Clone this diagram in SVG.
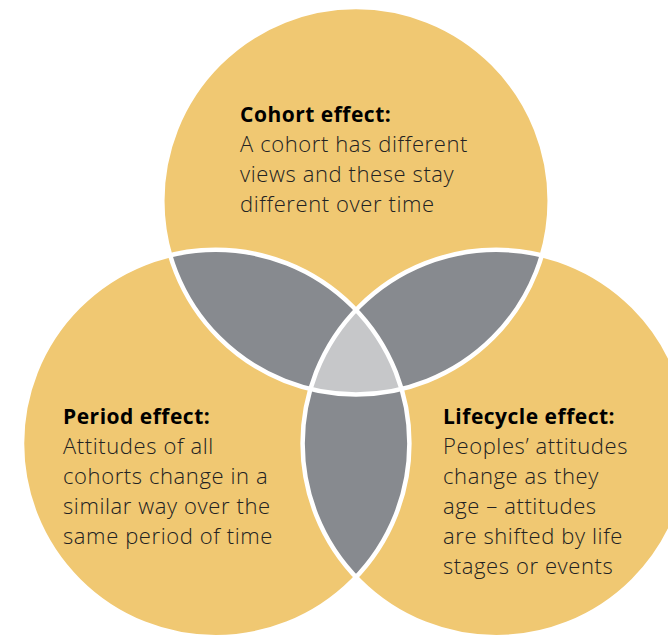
<svg xmlns="http://www.w3.org/2000/svg" width="668" height="635" viewBox="0 0 668 635">
<style>
.y{fill:#F0C872}
.g{fill:#878A8F}
.lg{fill:#C6C7C9}
.o{fill:none;stroke:#fff;stroke-width:4.5}
.t{font-family:"Open Sans",Lato,sans-serif;font-size:21px;font-weight:bold;letter-spacing:0.5px;fill:#000}
.b{font-family:"Open Sans",Lato,sans-serif;font-size:22px;font-weight:300;letter-spacing:0.6px;fill:#222}
</style>
<defs>
<clipPath id="cT"><circle cx="356" cy="200.7" r="193.7"/></clipPath>
<clipPath id="cBL"><circle cx="215.7" cy="443.5" r="193.7"/></clipPath>
</defs>
<rect width="668" height="635" fill="#fff"/>
<g id="cohort">
<circle class="y" cx="356" cy="200.7" r="193.7"/>
</g>
<g id="period">
<circle class="y" cx="215.7" cy="443.5" r="193.7"/>
</g>
<g id="lifecycle">
<circle class="y" cx="496.3" cy="443.5" r="193.7"/>
</g>
<g id="overlaps">
<g clip-path="url(#cT)"><circle class="g" cx="215.7" cy="443.5" r="193.7"/><circle class="g" cx="496.3" cy="443.5" r="193.7"/></g>
<g clip-path="url(#cBL)"><circle class="g" cx="496.3" cy="443.5" r="193.7"/></g>
<g clip-path="url(#cT)"><g clip-path="url(#cBL)"><circle class="lg" cx="496.3" cy="443.5" r="193.7"/></g></g>
</g>
<g id="outlines">
<circle class="o" cx="356" cy="200.7" r="193.7"/>
<circle class="o" cx="215.7" cy="443.5" r="193.7"/>
<circle class="o" cx="496.3" cy="443.5" r="193.7"/>
</g>
<g id="cohort-text">
<text class="t" x="240" y="122">Cohort effect:</text>
<text class="b" x="240" y="152">A cohort has different</text>
<text class="b" x="240" y="182">views and these stay</text>
<text class="b" x="240" y="212">different over time</text>
</g>
<g id="period-text">
<text class="t" x="63" y="424">Period effect:</text>
<text class="b" x="63" y="454">Attitudes of all</text>
<text class="b" x="63" y="484">cohorts change in a</text>
<text class="b" x="63" y="514">similar way over the</text>
<text class="b" x="63" y="544">same period of time</text>
</g>
<g id="lifecycle-text">
<text class="t" x="443" y="424">Lifecycle effect:</text>
<text class="b" x="443" y="454">Peoples’ attitudes</text>
<text class="b" x="443" y="484">change as they</text>
<text class="b" x="443" y="514">age – attitudes</text>
<text class="b" x="443" y="544">are shifted by life</text>
<text class="b" x="443" y="574">stages or events</text>
</g>
</svg>
